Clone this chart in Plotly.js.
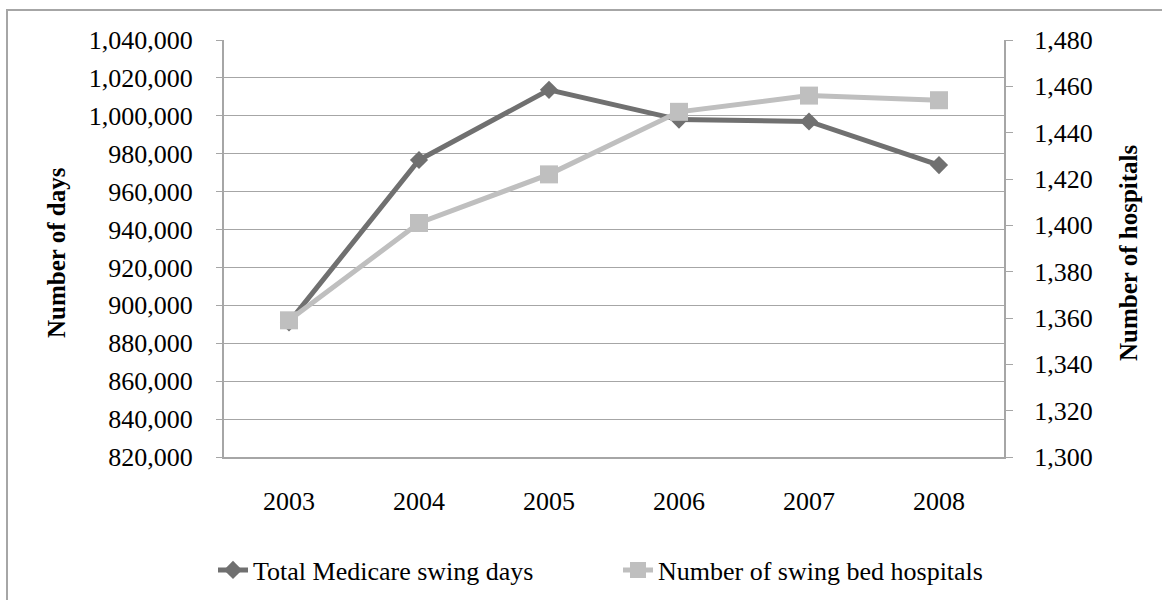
<!DOCTYPE html>
<html>
<head>
<meta charset="utf-8">
<script src="https://cdn.plot.ly/plotly-3.0.1.min.js"></script>
<style>
  html, body { margin: 0; padding: 0; background: #fff; overflow: hidden; }
  #wrap { position: relative; width: 1162px; height: 600px; overflow: hidden; }
  #frame { position: absolute; left: 6px; top: 9px; width: 1200px; height: 640px;
           border-left: 2px solid #a6a6a6; border-top: 2px solid #a6a6a6; pointer-events: none; }
  #chart { position: absolute; left: 0; top: 0; width: 1162px; height: 600px; }
</style>
</head>
<body>
<div id="wrap">
  <div id="chart"></div>
  <div id="frame"></div>
</div>
<script>
const years = ['2003', '2004', '2005', '2006', '2007', '2008'];
const swingDays = [891000, 976700, 1013700, 998000, 997000, 974000];
const swingHospitals = [1359, 1401, 1422, 1449, 1456, 1454];
const seriesNames = ['Total Medicare swing days', 'Number of swing bed hospitals'];
const axisTitles = ['Number of days', 'Number of hospitals'];

const FONT = 'Liberation Serif, Times New Roman, serif';
const W = 1162, H = 600;
const L = 224, R = 158, T = 40, B = 143;
const pw = W - L - R, ph = H - T - B;
const px = x => (x - L) / pw;
const py = y => (H - B - y) / ph;

const traces = [
  {
    x: years, y: swingDays, name: seriesNames[0], type: 'scatter', mode: 'lines+markers',
    line: { color: '#707070', width: 5 },
    marker: { symbol: 'diamond', size: 14, color: '#707070' },
    yaxis: 'y'
  },
  {
    x: years, y: swingHospitals, name: seriesNames[1], type: 'scatter', mode: 'lines+markers',
    line: { color: '#bfbfbf', width: 5 },
    marker: { symbol: 'square', size: 18, color: '#bfbfbf' },
    yaxis: 'y2'
  }
];

const layout = {
  width: W, height: H,
  margin: { l: L, r: R, t: T, b: B, pad: 0, autoexpand: false },
  paper_bgcolor: '#ffffff', plot_bgcolor: '#ffffff',
  font: { family: FONT, size: 26, color: '#000' },
  showlegend: true,
  legend: {
    orientation: 'h', x: px(213), xanchor: 'left', y: py(570), yanchor: 'middle',
    font: { family: FONT, size: 26, color: '#000' },
    bgcolor: 'rgba(0,0,0,0)', itemwidth: 30,
    entrywidth: 360, entrywidthmode: 'pixels'
  },
  xaxis: {
    type: 'category', range: [-0.5, 5.5], fixedrange: true, automargin: false,
    showline: true, linecolor: '#a6a6a6', linewidth: 2,
    showgrid: false, ticks: '', ticklabelstandoff: 20,
    tickfont: { family: FONT, size: 26, color: '#000' },
    zeroline: false
  },
  yaxis: {
    range: [820000, 1040000], dtick: 20000, tick0: 820000, tickformat: ',d',
    showline: true, linecolor: '#a6a6a6', linewidth: 2,
    showgrid: true, gridcolor: '#a6a6a6', gridwidth: 1,
    ticks: 'outside', ticklen: 6, tickcolor: '#a6a6a6', tickwidth: 1,
    ticklabelstandoff: 18,
    tickfont: { family: FONT, size: 26, color: '#000' },
    zeroline: false, automargin: false
  },
  yaxis2: {
    overlaying: 'y', side: 'right',
    range: [1300, 1480], dtick: 20, tick0: 1300, tickformat: ',d',
    showline: true, linecolor: '#a6a6a6', linewidth: 2,
    showgrid: false,
    ticks: 'outside', ticklen: 7, tickcolor: '#a6a6a6', tickwidth: 1,
    ticklabelstandoff: 16,
    tickfont: { family: FONT, size: 26, color: '#000' },
    zeroline: false, automargin: false
  },
  annotations: [
    {
      text: '<b>' + axisTitles[0] + '</b>', xref: 'paper', yref: 'paper',
      x: px(57), y: py(253), xanchor: 'center', yanchor: 'middle', textangle: -90,
      showarrow: false, font: { family: FONT, size: 25, color: '#000' }
    },
    {
      text: '<b>' + axisTitles[1] + '</b>', xref: 'paper', yref: 'paper',
      x: px(1129), y: py(253), xanchor: 'center', yanchor: 'middle', textangle: -90,
      showarrow: false, font: { family: FONT, size: 25, color: '#000' }
    }
  ]
};

Plotly.newPlot('chart', traces, layout, { displayModeBar: false, staticPlot: true });
</script>
</body>
</html>
